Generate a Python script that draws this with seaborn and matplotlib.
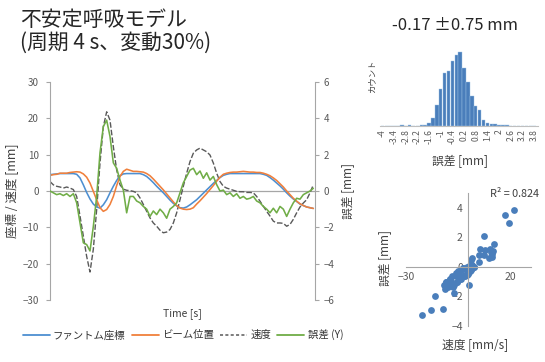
import numpy as np
import seaborn as sns
import matplotlib.pyplot as plt
from matplotlib.lines import Line2D

sns.set_style('white')
plt.rcParams['font.family'] = ['Noto Sans CJK JP', 'DejaVu Sans']

# time axis (s), one sample every 0.15 s
t = np.arange(80) * 0.15

# phantom position [mm]
phantom = [4.5, 4.6, 4.7, 4.8, 4.8, 4.8, 4.8, 4.8, 4.6, 3.6,
           1.7, -0.4, -2.2, -3.6, -4.4, -4.7, -3.8, -2.4, -0.5, 1.3,
           2.9, 4.2, 4.7, 4.8, 4.8, 4.8, 4.8, 4.8, 4.5, 4.0,
           3.2, 2.3, 1.3, 0.4, -0.5, -1.5, -2.5, -3.4, -4.1, -4.6,
           -4.7, -4.4, -3.8, -3.1, -2.4, -1.5, -0.6, 0.3, 1.2, 2.1,
           2.9, 3.7, 4.3, 4.6, 4.8, 4.8, 4.8, 4.8, 4.8, 4.8,
           4.8, 4.8, 4.8, 4.8, 4.6, 4.3, 3.7, 3.0, 2.2, 1.4,
           0.5, -0.5, -1.4, -2.2, -2.9, -3.6, -4.0, -4.4, -4.6, -4.8]

# beam position [mm]
beam = [4.3, 4.5, 4.6, 4.9, 4.9, 4.9, 5.1, 5.2, 5.3, 5.2,
        4.7, 3.8, 2.2, -0.1, -2.4, -4.6, -5.6, -5.1, -3.7, -1.5,
        1.5, 4.0, 5.4, 6.0, 5.7, 5.4, 5.4, 5.3, 5.2, 4.8,
        4.2, 3.3, 2.3, 1.3, 0.3, -0.8, -1.9, -3.0, -4.0, -4.7,
        -5.0, -5.1, -5.0, -4.6, -3.6, -2.7, -1.7, -0.7, 0.4, 1.5,
        2.7, 3.8, 4.6, 4.9, 5.1, 5.2, 5.2, 5.3, 5.4, 5.3,
        5.2, 5.2, 5.1, 5.1, 4.9, 4.6, 4.2, 3.6, 2.9, 2.0,
        1.1, 0.0, -1.0, -2.0, -2.8, -3.5, -4.0, -4.4, -4.6, -4.8]

# velocity [mm/s]
velocity = [2.6, 1.7, 1.3, 1.1, 0.8, 1.1, 0.8, 0.4, -1.5, -6.9,
            -12.4, -18.0, -22.3, -16.0, -5.1, 7.7, 17.7, 21.8, 19.5, 12.2,
            5.8, 1.7, 0.5, 0.2, 0.1, -0.1, -0.5, -1.9, -3.7, -5.6,
            -7.4, -8.8, -9.7, -10.8, -11.5, -11.3, -10.6, -8.8, -6.0, -2.4,
            1.3, 4.9, 8.1, 10.4, 11.3, 11.8, 11.3, 10.8, 9.9, 7.7,
            4.9, 2.6, 1.3, 0.8, 0.5, 0.2, -0.1, -0.2, -0.2, -0.4,
            -0.4, -0.5, -1.5, -2.8, -4.2, -5.6, -6.9, -8.3, -8.8, -8.8,
            -8.9, -9.7, -9.2, -7.8, -6.0, -4.4, -3.3, -2.4, -0.5, 1.7]

# error (Y) [mm]
error = [0.0, -0.1, -0.2, -0.15, -0.25, -0.15, -0.3, -0.15, -0.65, -1.75,
         -2.85, -2.95, -3.3, -1.95, -0.3, 2.1, 3.55, 3.9, 3.0, 1.55,
         1.25, 0.6, 0.05, -1.2, -0.3, -0.3, -0.55, -0.65, -0.85, -1.0,
         -1.4, -1.1, -1.3, -1.0, -1.2, -1.5, -1.0, -0.85, -0.65, -0.1,
         0.45, 0.8, 1.15, 1.25, 0.9, 1.1, 0.7, 1.0, 0.6, 0.8,
         0.35, 0.0, 0.05, -0.2, -0.1, -0.3, -0.15, -0.4, -0.3, -0.45,
         -0.4, -0.3, -0.55, -0.65, -0.85, -1.0, -1.2, -0.95, -1.2, -0.85,
         -1.0, -1.4, -1.0, -0.65, -0.4, -0.45, -0.2, -0.1, 0.0, 0.15]

# error histogram, 0.2 mm bins from -4 to 3.8
bin_labels = ['%g' % b for b in np.round(np.arange(-4, 4, 0.2), 1)]
counts = [0, 0, 0, 0, 0, 3, 0, 3, 1, 1,
          3, 4, 8, 23, 65, 113, 161, 167, 198, 216,
          223, 175, 133, 91, 61, 47, 18, 8, 5, 5,
          4, 3, 3, 0, 0, 0, 0, 0, 0, 0]

labels = ['ファントム座標', 'ビーム位置', '速度', '誤差 (Y)']
colors = ['#4d8fd1', '#f0803c', '#595959', '#70ad47']
grey = '#a6a6a6'
txt = '#595959'

fig = plt.figure(figsize=(5.45, 3.62), dpi=100)

# ---- main time series ----
ax = fig.add_axes([50 / 545, 1 - 300 / 362, 265 / 545, 218 / 362])
ax.axhline(0, color=grey, lw=0.9, zorder=0)
sns.lineplot(x=t, y=velocity, ax=ax, color=colors[2], lw=1.0, linestyle=(0, (4, 1.5)))
sns.lineplot(x=t, y=phantom, ax=ax, color=colors[0], lw=1.15)
sns.lineplot(x=t, y=beam, ax=ax, color=colors[1], lw=1.15)
ax.set_xlim(0, 11.925)
ax.set_ylim(-30, 30)
ax.set_yticks(range(-30, 31, 10))
ax.set_xticks([])
for s in ['top', 'bottom', 'right']:
    ax.spines[s].set_visible(False)
ax.spines['left'].set_color(grey)
ax.tick_params(axis='y', direction='out', length=3, color=grey, labelsize=7,
               labelcolor=txt, pad=5)
ax.set_xlabel('Time [s]', fontsize=7.5, color='#404040', labelpad=6)
ax.set_ylabel('座標 / 速度 [mm]', fontsize=9, color='#404040')
ax.yaxis.set_label_coords(-0.12, 0.5)

ax2 = ax.twinx()
sns.lineplot(x=t, y=error, ax=ax2, color=colors[3], lw=1.15)
ax2.set_ylim(-6, 6)
ax2.set_yticks(range(-6, 7, 2))
for s in ['top', 'bottom', 'left']:
    ax2.spines[s].set_visible(False)
ax2.spines['right'].set_color(grey)
ax2.tick_params(axis='y', direction='out', length=3, color=grey, labelsize=7,
                labelcolor=txt, pad=3)
ax2.set_ylabel('誤差 [mm]', fontsize=8.5, color='#404040')
ax2.yaxis.set_label_coords(1.10, 0.5)

handles = [Line2D([], [], color=colors[0], lw=1.3),
           Line2D([], [], color=colors[1], lw=1.3),
           Line2D([], [], color=colors[2], lw=1.1, linestyle=(0, (2, 1.5))),
           Line2D([], [], color=colors[3], lw=1.3)]
leg = fig.legend(handles, labels, loc='center', bbox_to_anchor=(183 / 545, 1 - 335 / 362),
                 ncol=4, frameon=False, fontsize=7.5, handlelength=2.6,
                 handletextpad=0.3, columnspacing=0.6)
for tx in leg.get_texts():
    tx.set_color('#333333')

# ---- title ----
fig.text(20 / 545, 1 - 20 / 362, '不安定呼吸モデル', fontsize=15, va='center', color='#262626')
fig.text(20 / 545, 1 - 43 / 362, '(周期 4 s、変動30%)', fontsize=15, va='center', color='#262626')

# ---- histogram ----
hax = fig.add_axes([380 / 545, 1 - 126 / 362, 158 / 545, 76 / 362])
sns.barplot(x=bin_labels, y=counts, ax=hax, color='#4a7ebb', saturation=1,
            width=0.88, edgecolor='#9dc3e6', linewidth=0.3)
hax.set_xlim(-0.6, 40.0)
hax.set_ylim(0, 230)
hax.set_yticks([])
for s in ['top', 'right', 'left']:
    hax.spines[s].set_visible(False)
hax.spines['bottom'].set_color('#bfbfbf')
hax.set_xticks(range(0, 40, 3))
hax.set_xticklabels(bin_labels[::3], rotation=90, fontsize=6.2, color=txt)
hax.tick_params(axis='x', length=0, pad=2)
hax.set_ylabel('カウント', fontsize=6, color='#404040')
hax.yaxis.set_label_coords(-0.025, 0.66)
hax.set_xlabel('誤差 [mm]', fontsize=8.5, color='#404040')
hax.xaxis.set_label_coords(0.506, -0.38)
fig.text(455 / 545, 1 - 25 / 362, '-0.17 ±0.75 mm', fontsize=12, ha='center',
         va='center', color='#262626')

# ---- scatter ----
sax = fig.add_axes([406 / 545, 1 - 325.7 / 362, 124.7 / 545, 132.3 / 362])
sns.scatterplot(x=velocity, y=error, ax=sax, color='#4a7ebb', s=24, linewidth=0)
sax.set_xlim(-30, 30)
sax.set_ylim(-4, 5)
sax.set_xticks([-30, 20])
sax.set_yticks([-4, -2, 0, 2, 4])
for s in ['top', 'right']:
    sax.spines[s].set_visible(False)
for s in ['left', 'bottom']:
    sax.spines[s].set_position(('data', 0))
    sax.spines[s].set_color(grey)
sax.tick_params(direction='inout', length=4, color=grey, labelsize=7.5,
                labelcolor=txt, pad=2)
sax.set_ylabel('誤差 [mm]', fontsize=8.5, color='#404040')
sax.yaxis.set_label_coords(-0.112, 0.51)
sax.set_xlabel('速度 [mm/s]', fontsize=8.5, color='#404040')
sax.xaxis.set_label_coords(0.557, -0.093)
fig.text(515 / 545, 1 - 194 / 362, 'R² = 0.824', fontsize=7.8, ha='center',
         va='center', color='#404040')

fig.savefig('out.png', dpi=100)
